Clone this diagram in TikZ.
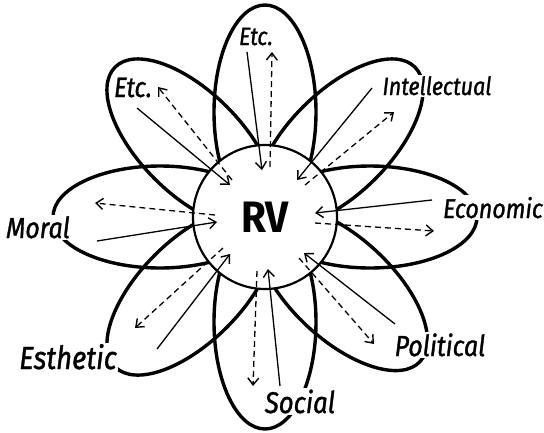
\documentclass[tikz,border=0pt]{standalone}
\usepackage{fontspec}
\setmainfont{Fira Sans}
\newfontfamily\labfont[FakeStretch=0.86,FakeBold=1.2]{Fira Sans}
\newfontfamily\rvfont[FakeStretch=0.92]{Fira Sans}
\usetikzlibrary{arrows.meta}
\begin{document}
\begin{tikzpicture}[x=1pt,y=-1pt,
  petal/.style={line width=3.4pt},
  hub/.style={circle, draw, line width=2.2pt, fill=white, minimum size=144pt, inner sep=0pt},
  inarrow/.style={line width=1.3pt, -{Straight Barb[length=7pt,width=11pt,line width=1.4pt]}},
  outarrow/.style={line width=1.3pt, dash pattern=on 6pt off 4pt, -{Straight Barb[length=7pt,width=11pt,line width=1.4pt]}},
  lab/.style={fill=white, inner sep=1.5pt, font=\labfont\itshape\fontsize{#1}{#1}\selectfont, anchor=base},
  lab/.default=25
]
\useasboundingbox (0,0) rectangle (544,432);
\coordinate (C) at (265,217);
\foreach \a in {0,45,90,135,180,225,270,317} {
  \begin{scope}[shift={(C)}, rotate=\a]
    \draw[petal] (105,0) ellipse [x radius=107, y radius=51];
  \end{scope}
}
\node[hub] (hub) at (C) {\rvfont\bfseries\fontsize{44}{44}\selectfont RV};

% endpoints
\coordinate (t1) at (247,52);  \coordinate (t2) at (262,170);
\coordinate (t3) at (270,167); \coordinate (t4) at (272,52);
\coordinate (u1) at (137,108); \coordinate (u2) at (230,185);
\coordinate (u3) at (232,180); \coordinate (u4) at (158,87);
\coordinate (i1) at (372,88);  \coordinate (i2) at (297,180);
\coordinate (i3) at (305,185); \coordinate (i4) at (394,112);
\coordinate (e1) at (432,200); \coordinate (e2) at (315,213);
\coordinate (e3) at (315,223); \coordinate (e4) at (434,231);
\coordinate (m1) at (97,241);  \coordinate (m2) at (217,222);
\coordinate (m3) at (215,215); \coordinate (m4) at (95,203);
\coordinate (s1) at (157,349); \coordinate (s2) at (230,254);
\coordinate (s3) at (223,248); \coordinate (s4) at (135,328);
\coordinate (o1) at (280,386); \coordinate (o2) at (268,269);
\coordinate (o3) at (257,271); \coordinate (o4) at (253,386);
\coordinate (p1) at (395,324); \coordinate (p2) at (304,253);
\coordinate (p3) at (299,258); \coordinate (p4) at (374,344);

\foreach \k in {t,u,i,e,m,s,o,p} {
  \draw[inarrow] (\k1) -- (\k2);
  \draw[outarrow] (\k3) -- (\k4);
}

\node[lab] (ltop) at (256,45) {Etc.};
\node[lab=28] (lul) at (133,97) {Etc.};
\node[lab] (lint) at (437,95) {Intellectual};
\node[lab=27] (leco) at (493,218) {Economic};
\node[lab=29] (lmor) at (38,238) {Moral};
\node[lab=32] (lest) at (68,369) {Esthetic};
\node[lab=29] (lpol) at (440,356) {Political};
\node[lab=30] (lsoc) at (300,413) {Social};
\end{tikzpicture}
\end{document}
